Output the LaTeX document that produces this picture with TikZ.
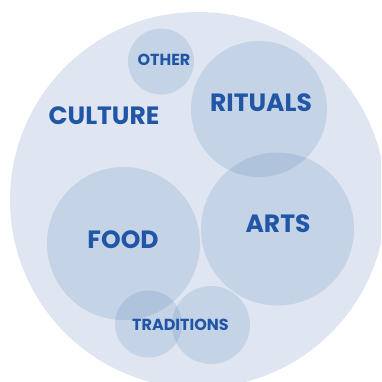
\documentclass[tikz,border=0pt]{standalone}
\usepackage{fontspec}
\setmainfont{Poppins}[BoldFont={Poppins Bold}]
\definecolor{bgc}{RGB}{223,229,241}
\definecolor{cc}{RGB}{50,109,168}
\definecolor{txt}{RGB}{33,85,165}
\begin{document}
\begin{tikzpicture}[x=1pt,y=-1pt,
  bub/.style={circle,fill=cc,fill opacity=0.15,inner sep=0pt,draw=none},
  lbl/.style={text=txt,font=\bfseries,inner sep=0pt},
  big/.style={lbl,font=\fontsize{25}{25}\selectfont\bfseries},
  small/.style={lbl,font=\fontsize{16}{16}\selectfont\bfseries}]
\useasboundingbox (0,0) rectangle (381,382);
\clip (0,0) rectangle (381,382);
\fill[bgc] (198,200) circle (188);
\node[bub,minimum size=66] (other) at (161,61.5) {};
\node[bub,minimum size=136] (rituals) at (259,109) {};
\node[bub,minimum size=153] (arts) at (277.5,229) {};
\node[bub,minimum size=153] (food) at (123.5,243.5) {};
\node[bub,minimum size=67] (tradl) at (148.5,324) {};
\node[bub,minimum size=78] (tradr) at (211,325) {};
\node[big] (culture) at (104,116) {CULTURE};
\node[big] (ritualst) at (261,103) {RITUALS};
\node[big] (artst) at (278,224) {ARTS};
\node[big] (foodt) at (123,240) {FOOD};
\node[small] (othert) at (164,60) {OTHER};
\node[small] (tradt) at (180.5,325) {TRADITIONS};
\end{tikzpicture}
\end{document}
